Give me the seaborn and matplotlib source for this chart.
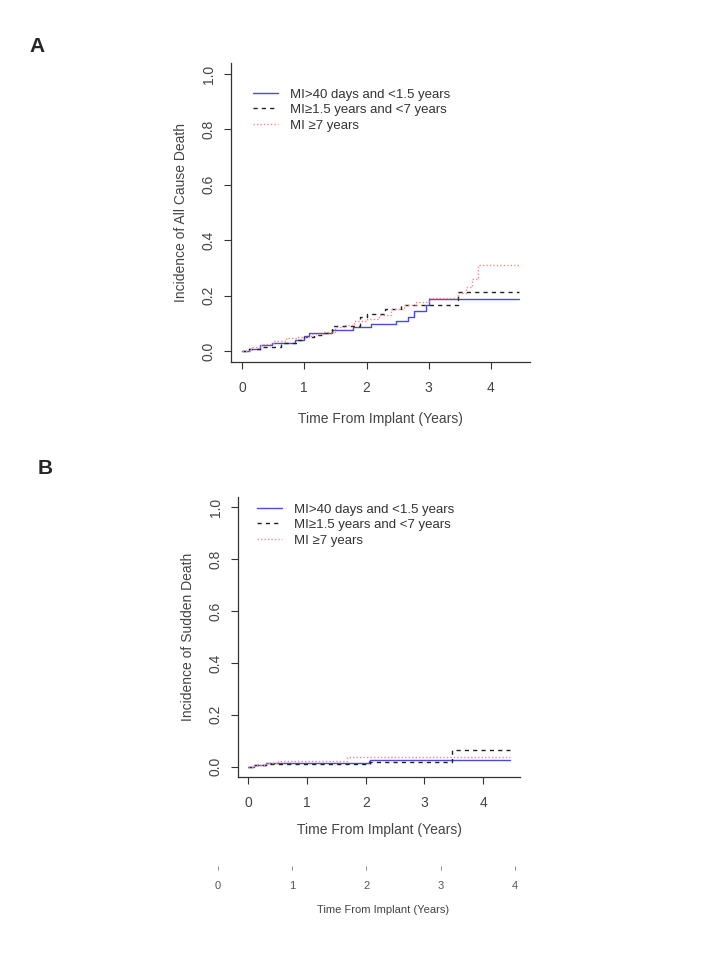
import matplotlib
matplotlib.use("Agg")
import matplotlib.pyplot as plt
import seaborn as sns
import pandas as pd

sns.set_theme(style="ticks")
plt.rcParams['font.family'] = ['Liberation Sans', 'DejaVu Sans']

labels = ["MI>40 days and <1.5 years", "MI≥1.5 years and <7 years", "MI ≥7 years"]
colors = ["#4a4ae0", "#222222", "#f08a8a"]
dashes = ["-", (0, (3, 3)), (0, (1, 1.5))]

# panel A: all cause death (step times, cumulative incidence)
a_t_early = [0, 0.11, 0.29, 0.48, 0.85, 0.99, 1.07, 1.44, 1.79, 2.08, 2.48, 2.67, 2.77, 2.96, 3.01, 4.45]
a_y_early = [0, 0.006, 0.020, 0.028, 0.040, 0.054, 0.064, 0.074, 0.085, 0.098, 0.109, 0.124, 0.143, 0.167, 0.187, 0.187]
a_t_mid = [0, 0.10, 0.30, 0.62, 0.88, 1.00, 1.15, 1.30, 1.45, 1.90, 2.00, 2.30, 2.55, 3.47, 4.45]
a_y_mid = [0, 0.008, 0.015, 0.030, 0.040, 0.050, 0.058, 0.065, 0.090, 0.124, 0.135, 0.150, 0.165, 0.212, 0.212]
a_t_late = [0, 0.15, 0.30, 0.50, 0.70, 0.90, 1.10, 1.30, 1.50, 1.65, 1.80, 2.00, 2.20, 2.40, 2.60, 2.80, 3.00, 3.47, 3.60, 3.70, 3.80, 4.45]
a_y_late = [0, 0.015, 0.025, 0.035, 0.045, 0.050, 0.060, 0.070, 0.085, 0.095, 0.108, 0.115, 0.130, 0.150, 0.165, 0.175, 0.190, 0.210, 0.230, 0.260, 0.312, 0.312]

# panel B: sudden death
b_t_early = [0, 0.10, 0.30, 2.05, 2.08, 4.45]
b_y_early = [0, 0.005, 0.013, 0.020, 0.026, 0.026]
b_t_mid = [0, 0.10, 0.30, 2.08, 3.47, 4.45]
b_y_mid = [0, 0.005, 0.009, 0.018, 0.063, 0.063]
b_t_late = [0, 0.10, 0.30, 0.51, 1.68, 4.45]
b_y_late = [0, 0.005, 0.013, 0.023, 0.036, 0.036]

xticks = [0, 1, 2, 3, 4]
yticks = [0.0, 0.2, 0.4, 0.6, 0.8, 1.0]

W, H = 720, 960
fig = plt.figure(figsize=(7.2, 9.6), dpi=100)


def px_axes(left, top, right, bottom):
    return fig.add_axes([left / W, 1 - bottom / H, (right - left) / W, (bottom - top) / H])


txt = "#444444"


def draw_panel(ax, series, ylabel, leg_anchor, xlabelpad):
    for i, (t, y) in enumerate(series):
        df = pd.DataFrame({"t": t, "y": y})
        sns.lineplot(data=df, x="t", y="y", ax=ax, drawstyle="steps-post",
                     color=colors[i], linestyle=dashes[i], linewidth=1.0,
                     label=labels[i], estimator=None, sort=False)
    ax.set_xlim(-0.178, 4.628)
    ax.set_ylim(-0.04, 1.04)
    ax.set_xticks(xticks)
    ax.set_yticks(yticks)
    ax.set_yticklabels([f"{v:.1f}" for v in yticks], rotation=90, va="center")
    ax.tick_params(axis="both", length=5, width=0.8, color="#333333",
                   labelsize=10, labelcolor=txt, pad=6)
    ax.tick_params(axis="x", pad=9)
    for s in ["top", "right"]:
        ax.spines[s].set_visible(False)
    for s in ["left", "bottom"]:
        ax.spines[s].set_linewidth(0.9)
        ax.spines[s].set_color("#333333")
    ax.set_ylabel(ylabel, fontsize=10, color=txt, labelpad=10)
    ax.set_xlabel("Time From Implant (Years)", fontsize=10, color=txt, labelpad=xlabelpad)
    leg = ax.legend(loc="upper left", bbox_to_anchor=leg_anchor, frameon=False,
                    fontsize=9.5, handlelength=1.9, labelspacing=0.25, handletextpad=0.9)
    for t in leg.get_texts():
        t.set_color("#333333")


axA = px_axes(231, 63, 530, 362)
draw_panel(axA, [(a_t_early, a_y_early), (a_t_mid, a_y_mid), (a_t_late, a_y_late)],
           "Incidence of All Cause Death", (0.033, 0.955), 12)

axB = px_axes(238, 497, 520, 777)
draw_panel(axB, [(b_t_early, b_y_early), (b_t_mid, b_y_mid), (b_t_late, b_y_late)],
           "Incidence of Sudden Death", (0.026, 1.02), 9)

# stray axis at the bottom
axC = px_axes(204.8, 840, 561.6, 866)
axC.set_xlim(-0.178, 4.628)
axC.set_xticks(xticks)
axC.set_yticks([])
for s in axC.spines.values():
    s.set_visible(False)
axC.tick_params(axis="x", length=3, width=0.6, color="#777777", labelsize=8,
                labelcolor="#555555", pad=8)
axC.set_xlabel("Time From Implant (Years)", fontsize=8, color="#444444", labelpad=10)
axC.patch.set_alpha(0)

fig.text(37 / W, 1 - 46 / H, "A", fontsize=15, fontweight="bold", ha="center", va="center")
fig.text(45 / W, 1 - 468 / H, "B", fontsize=15, fontweight="bold", ha="center", va="center")

fig.savefig("out.png", dpi=100)
